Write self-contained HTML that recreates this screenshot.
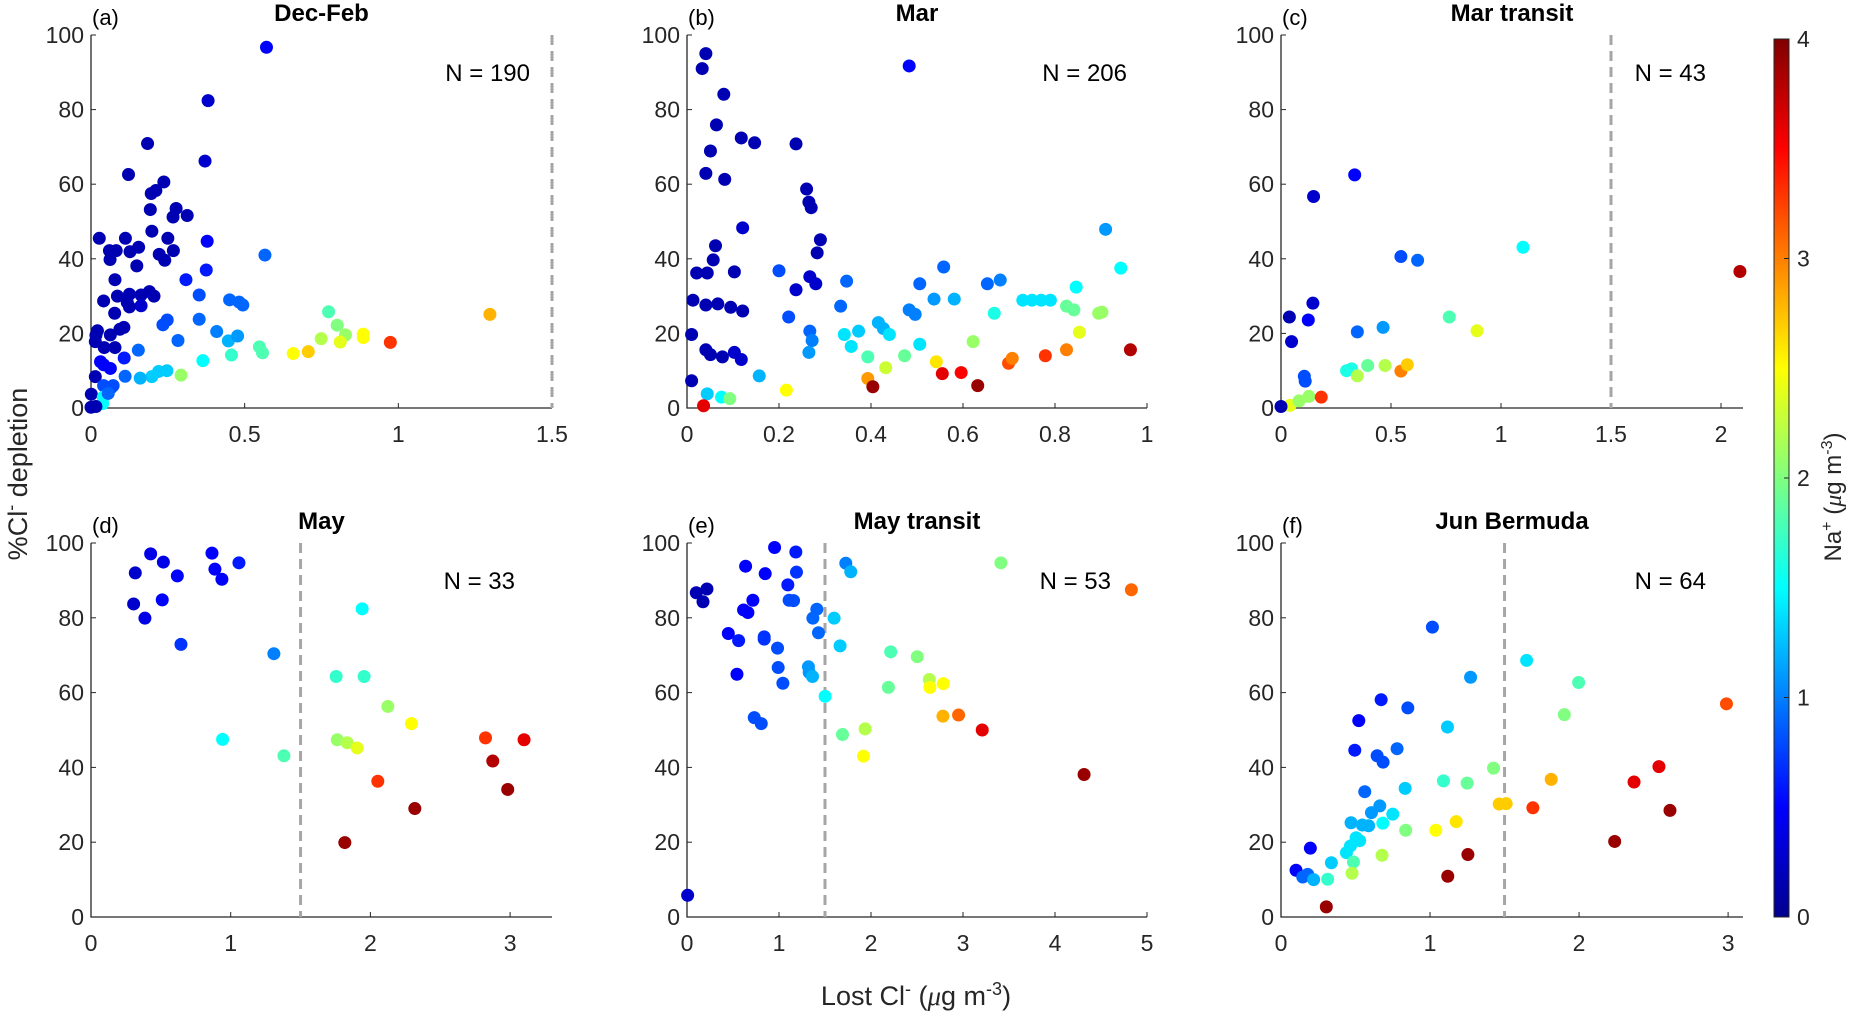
<!DOCTYPE html>
<html><head><meta charset="utf-8">
<style>
html,body{margin:0;padding:0;background:#fff;}
svg{display:block;font-family:"Liberation Sans",Arial,sans-serif;}
</style></head>
<body>
<svg id="fig" width="1856" height="1012" viewBox="0 0 1856 1012" xmlns="http://www.w3.org/2000/svg">
<defs>
<linearGradient id="jet" x1="0" y1="1" x2="0" y2="0">
<stop offset="0" stop-color="#00008f"/><stop offset="0.125" stop-color="#0000ff"/><stop offset="0.375" stop-color="#00ffff"/><stop offset="0.625" stop-color="#ffff00"/><stop offset="0.875" stop-color="#ff0000"/><stop offset="1" stop-color="#800000"/>
</linearGradient>
</defs>
<g id="panels"></g>
<text transform="translate(27,474) rotate(-90)" text-anchor="middle" font-size="27" fill="#262626">%Cl<tspan dy="-10" font-size="18">-</tspan><tspan dy="10"> depletion</tspan></text>
<text x="916" y="1005" text-anchor="middle" font-size="27" fill="#262626">Lost Cl<tspan dy="-10" font-size="18">-</tspan><tspan dy="10"> (</tspan><tspan font-family="Liberation Serif" font-style="italic">μ</tspan>g m<tspan dy="-10" font-size="18">-3</tspan><tspan dy="10">)</tspan></text>
<g>
<rect x="1774" y="39" width="15" height="878" fill="url(#jet)" stroke="#262626" stroke-width="1"/>
<g id="cbticks"></g>
<text transform="translate(1841,497) rotate(-90)" text-anchor="middle" font-size="24" fill="#262626">Na<tspan dy="-9" font-size="16">+</tspan><tspan dy="9"> (</tspan><tspan font-family="Liberation Serif" font-style="italic">μ</tspan>g m<tspan dy="-9" font-size="16">-3</tspan><tspan dy="9">)</tspan></text>
</g>
</svg>
<script>
// Panel (a) Dec-Feb
const aX=[0.571,0.381,0.184,0.371,0.122,0.237,0.196,0.211,0.193,0.277,0.267,0.313,0.198,0.027,0.112,0.25,0.378,0.566,0.06,0.082,0.127,0.155,0.062,0.222,0.24,0.268,0.149,0.375,0.078,0.309,0.041,0.086,0.125,0.163,0.19,0.205,0.118,0.163,0.125,0.352,0.451,0.482,0.494,0.077,0.773,1.298,0.021,0.016,0.063,0.094,0.107,0.234,0.248,0.352,0.409,0.447,0.477,0.283,0.801,0.828,0.886,0.886,0.811,0.749,0.974,0.658,0.707,0.548,0.558,0.457,0.364,0.293,0.247,0.22,0.198,0.16,0.111,0.154,0.108,0.014,0.043,0.078,0.031,0.041,0.063,0.014,0.001,0,0.041,0.066,0.072,0.04,0.038,0.056,0.016];
const aY=[96.7,82.4,70.9,66.2,62.6,60.6,57.5,58.3,53.2,53.5,51.2,51.6,47.4,45.5,45.5,45.5,44.7,41,42.2,42.2,41.9,43.1,39.8,41.2,39.6,42.2,38.1,37,34.4,34.4,28.7,30,30.5,30.3,31.2,30,28.3,27.4,27.1,30.3,29,28.4,27.6,25.4,25.8,25.1,20.7,19.5,19.6,21.1,21.6,22.3,23.6,23.8,20.5,18,19.3,18.1,22.2,19.6,19.8,18.9,17.7,18.6,17.6,14.6,15.1,16.4,14.8,14.2,12.7,8.8,10,9.8,8.4,8,8.5,15.5,13.4,17.8,16.2,16.2,12.4,11.6,10.6,8.4,3.7,0.2,6,5.5,6,2.9,1.2,3.9,0.4];
const aC=[0.5,0.3,0.2,0.3,0.2,0.2,0.2,0.2,0.2,0.2,0.2,0.2,0.2,0.2,0.2,0.2,0.5,0.9,0.2,0.2,0.2,0.2,0.2,0.2,0.2,0.2,0.2,0.6,0.2,0.6,0.2,0.2,0.2,0.2,0.2,0.2,0.2,0.3,0.2,0.8,0.9,0.9,0.9,0.2,1.8,2.8,0.2,0.2,0.2,0.2,0.2,0.8,0.8,0.9,1.0,1.2,1.1,0.9,2.0,2.1,2.5,2.5,2.4,2.2,3.3,2.5,2.7,1.8,1.8,1.7,1.5,2.1,1.3,1.3,1.3,1.2,0.9,0.9,0.6,0.2,0.2,0.2,0.5,0.5,0.5,0.2,0.2,0.2,0.8,0.8,0.8,1.5,1.5,0.9,0.2];
// Panel (b) Mar
const bX=[0.041,0.033,0.483,0.08,0.064,0.051,0.041,0.118,0.147,0.082,0.237,0.26,0.265,0.27,0.121,0.29,0.283,0.062,0.057,0.021,0.044,0.103,0.2,0.267,0.28,0.237,0.013,0.041,0.067,0.095,0.121,0.221,0.01,0.041,0.051,0.077,0.103,0.118,0.157,0.01,0.044,0.075,0.093,0.036,0.216,0.267,0.272,0.265,0.334,0.347,0.342,0.357,0.373,0.393,0.416,0.427,0.44,0.393,0.404,0.432,0.473,0.483,0.496,0.506,0.506,0.542,0.555,0.537,0.581,0.558,0.596,0.622,0.632,0.653,0.668,0.681,0.699,0.707,0.73,0.75,0.77,0.79,0.779,0.825,0.825,0.841,0.846,0.853,0.895,0.902,0.91,0.943,0.964];
const bY=[95,91,91.7,84.1,75.9,68.9,62.9,72.4,71.1,61.3,70.8,58.7,55.2,53.7,48.3,45.1,41.6,43.5,39.7,36.2,36.2,36.5,36.8,35.2,33.3,31.7,28.9,27.6,27.9,27,26,24.4,19.7,15.6,14.3,13.7,14.9,13,8.6,7.3,3.8,2.9,2.5,0.6,4.8,20.6,18.1,14.9,27.3,34,19.7,16.5,20.6,13.7,22.9,21.3,19.7,7.9,5.7,10.8,14,26.3,25.1,33.3,17.1,12.4,9.2,29.2,29.2,37.8,9.5,17.8,6,33.3,25.4,34.3,12,13.3,28.9,28.9,28.9,28.9,14,15.6,27.3,26.3,32.4,20.3,25.4,25.7,47.9,37.5,15.6];
const bC=[0.2,0.2,0.5,0.2,0.2,0.2,0.2,0.2,0.2,0.2,0.2,0.2,0.2,0.2,0.3,0.2,0.2,0.2,0.2,0.2,0.2,0.2,0.8,0.3,0.3,0.3,0.2,0.2,0.2,0.2,0.2,0.8,0.2,0.2,0.2,0.2,0.3,0.3,1.2,0.2,1.3,1.5,2.0,3.6,2.5,0.9,1.0,1.1,0.9,0.9,1.4,1.4,1.3,1.8,1.2,1.2,1.4,2.9,3.9,2.3,1.9,1.0,1.0,0.9,1.4,2.6,3.6,1.1,1.2,0.9,3.5,2.1,3.9,0.9,1.6,1.0,3.2,3.0,1.4,1.4,1.4,1.4,3.3,3.0,1.9,1.9,1.5,2.4,2.1,2.1,1.1,1.5,3.8];
// Panel (c) Mar transit
const cX=[0.335,0.148,0.545,0.621,1.1,2.086,0.145,0.038,0.124,0.765,0.891,0.347,0.464,0.048,0.298,0.321,0.347,0.394,0.473,0.545,0.574,0.106,0.11,0.041,0.082,0.127,0.183,0];
const cY=[62.5,56.7,40.6,39.6,43.1,36.6,28.1,24.4,23.6,24.4,20.7,20.4,21.6,17.8,10,10.5,8.6,11.4,11.4,9.9,11.6,8.5,7.2,0.7,1.9,3.1,2.9,0.4];
const cC=[0.5,0.3,0.8,0.9,1.5,3.8,0.3,0.2,0.5,1.8,2.4,0.9,1.1,0.3,1.6,1.6,2.2,1.9,2.2,3.0,2.7,0.8,0.8,2.4,2.1,2.1,3.3,0.2];
// Panel (d) May
const dX=[0.427,0.866,0.518,1.059,0.317,0.618,0.887,0.937,0.305,0.51,0.386,0.644,1.309,1.941,1.755,1.955,2.125,2.294,0.942,1.381,1.763,1.834,1.905,2.824,3.1,2.876,2.983,2.053,2.318,1.817];
const dY=[97.1,97.3,94.9,94.7,92,91.2,93,90.3,83.7,84.8,79.9,72.9,70.4,82.4,64.3,64.3,56.3,51.7,47.5,43.1,47.4,46.6,45.2,47.9,47.4,41.7,34.1,36.3,29,19.9];
const dC=[0.4,0.5,0.4,0.6,0.3,0.5,0.5,0.5,0.3,0.5,0.4,0.7,1.0,1.5,1.7,1.7,2.1,2.5,1.5,1.8,2.1,2.2,2.4,3.3,3.6,3.8,3.9,3.3,3.9,3.9];
// Panel (e) May transit
const eX=[0.952,1.183,0.637,0.85,1.19,1.726,1.78,3.412,4.83,0.101,0.217,0.174,1.096,0.716,1.11,1.158,0.615,0.662,1.411,1.368,1.599,0.449,0.561,0.839,0.839,1.429,0.984,1.664,2.214,2.503,0.991,1.32,1.328,1.364,0.543,1.042,2.634,2.641,2.786,2.189,1.501,0.731,0.807,2.782,2.952,3.209,1.69,1.936,1.918,4.316,0.007];
const eY=[98.8,97.6,93.8,91.8,92.2,94.6,92.3,94.7,87.5,86.7,87.7,84.3,88.8,84.7,84.7,84.6,82.1,81.4,82.3,79.9,79.9,75.8,73.9,74.9,74.3,76,71.9,72.5,70.9,69.6,66.7,66.9,65.4,64.3,64.9,62.5,63.5,61.4,62.4,61.4,59,53.3,51.7,53.7,54,50,48.8,50.3,43,38.1,5.8];
const eC=[0.5,0.6,0.5,0.5,0.7,1.0,1.2,2.0,3.1,0.2,0.2,0.2,0.6,0.5,0.8,0.8,0.5,0.5,0.9,0.9,1.3,0.5,0.6,0.7,0.7,0.9,0.8,1.3,1.8,2.0,0.8,1.1,1.1,1.2,0.5,0.8,2.2,2.5,2.5,1.9,1.5,0.8,0.8,2.8,3.1,3.6,1.9,2.2,2.5,3.9,0.3];
// Panel (f) Jun Bermuda
const fX=[1.016,1.648,1.272,1.997,2.989,0.672,0.851,0.522,1.901,1.117,0.495,0.645,0.685,0.779,1.426,2.536,1.813,2.369,1.09,1.249,0.562,0.833,1.464,1.511,1.69,2.61,0.663,0.607,0.75,0.47,0.546,0.588,0.683,0.837,1.039,1.176,2.239,0.197,0.504,0.528,0.466,0.439,0.678,1.254,0.338,0.486,0.101,0.146,0.179,0.219,0.313,0.477,1.119,0.304];
const fY=[77.5,68.6,64.1,62.7,57,58.1,55.9,52.5,54.1,50.8,44.6,43.1,41.4,45,39.8,40.2,36.8,36.1,36.4,35.8,33.5,34.4,30.2,30.3,29.2,28.5,29.7,27.9,27.5,25.2,24.6,24.4,25.1,23.2,23.2,25.5,20.2,18.4,21.2,20.4,19,17.2,16.5,16.7,14.5,14.7,12.5,10.7,11.4,10,10.1,11.7,10.9,2.7];
const fC=[0.8,1.4,1.1,1.8,3.2,0.6,0.8,0.5,2.0,1.3,0.6,0.8,0.8,0.9,2.0,3.6,2.8,3.6,1.7,1.9,0.9,1.3,2.7,2.7,3.3,3.9,1.1,1.1,1.4,1.2,1.2,1.2,1.5,2.0,2.5,2.6,3.9,0.5,1.4,1.4,1.4,1.4,2.2,3.9,1.3,1.8,0.5,0.9,0.9,1.2,1.7,2.2,3.9,3.9];
const yTicks=[0,20,40,60,80,100];
const xTicksA=[0,0.5,1,1.5], xTicksB=[0,0.2,0.4,0.6,0.8,1], xTicksC=[0,0.5,1,1.5,2];
const xTicksD=[0,1,2,3], xTicksE=[0,1,2,3,4,5], xTicksF=[0,1,2,3];
const cbTicks=[0,1,2,3,4];
const panelTitles=["Dec-Feb","Mar","Mar transit","May","May transit","Jun Bermuda"];
const panelLetters=["(a)","(b)","(c)","(d)","(e)","(f)"];
const panelN=[190,206,43,33,53,64];

const NS="http://www.w3.org/2000/svg";
function jet(v){
  let t=Math.max(0,Math.min(1,v/4));
  const f=(x)=>Math.max(0,Math.min(1,x));
  const r=f(Math.min(4*t-1.5,-4*t+4.5)), g=f(Math.min(4*t-0.5,-4*t+3.5)), b=f(Math.min(4*t+0.5,-4*t+2.5));
  return "rgb("+Math.round(r*255)+","+Math.round(g*255)+","+Math.round(b*255)+")";
}
function mk(tag,attrs,parent){const e=document.createElementNS(NS,tag);for(const k in attrs)e.setAttribute(k,attrs[k]);parent.appendChild(e);return e;}
const root=document.getElementById("panels");
const layout=[
 {L:91,R:552,xmax:1.5,top:35,bot:408,nR:530,dash:true},
 {L:687,R:1147,xmax:1,top:35,bot:408,nR:1127,dash:false},
 {L:1281,R:1743,xmax:2.1,top:35,bot:408,nR:1706,dash:true},
 {L:91,R:552,xmax:3.3,top:543,bot:917,nR:515,dash:true},
 {L:687,R:1147,xmax:5,top:543,bot:917,nR:1111,dash:true},
 {L:1281,R:1743,xmax:3.1,top:543,bot:917,nR:1706,dash:true}
];
const series=[[aX,aY,aC],[bX,bY,bC],[cX,cY,cC],[dX,dY,dC],[eX,eY,eC],[fX,fY,fC]];
const xticks=[xTicksA,xTicksB,xTicksC,xTicksD,xTicksE,xTicksF];
layout.forEach((p,i)=>{
  const g=mk("g",{},root);
  
  
  const sx=v=>p.L+(v/p.xmax)*(p.R-p.L);
  const sy=v=>p.bot-(v/100)*(p.bot-p.top);
  const ax=mk("path",{d:`M${p.L},${p.top}V${p.bot}H${p.R}`,fill:"none",stroke:"#262626","stroke-width":1.3},g);
  
  
  yTicks.forEach(t=>{
    mk("line",{x1:p.L,x2:p.L+5,y1:sy(t),y2:sy(t),stroke:"#262626","stroke-width":1},g);
    const tx=mk("text",{x:p.L-7,y:sy(t)+8,"text-anchor":"end","font-size":23,fill:"#262626"},g);
    tx.textContent=t;
    
    
  });
  xticks[i].forEach(t=>{
    mk("line",{x1:sx(t),x2:sx(t),y1:p.bot,y2:p.bot-5,stroke:"#262626","stroke-width":1},g);
    const tx=mk("text",{x:sx(t),y:p.bot+34,"text-anchor":"middle","font-size":23,fill:"#262626"},g);
    tx.textContent=t;
    
    
  });
  if(p.dash){
    const dl=mk("line",{x1:sx(1.5),x2:sx(1.5),y1:p.top,y2:p.bot,stroke:"#a6a6a6","stroke-width":3,"stroke-dasharray":"10,6"},g);
    
    
  }
  const [X,Y,C]=series[i];
  for(let k=0;k<X.length;k++){
    const c=mk("circle",{cx:sx(X[k]),cy:sy(Y[k]),r:6.5,fill:jet(C[k])},g);
    
    
  }
  const ti=mk("text",{x:(p.L+p.R)/2,y:p.top-14,"text-anchor":"middle","font-size":24,"font-weight":"bold",fill:"#000"},g);
  ti.textContent=panelTitles[i];
  
  
  const le=mk("text",{x:p.L+1,y:p.top-10,"font-size":22,fill:"#000"},g);
  le.textContent=panelLetters[i];
  
  
  const nt=mk("text",{x:p.nR,y:p.top+46,"text-anchor":"end","font-size":24,fill:"#000"},g);
  nt.textContent="N = "+panelN[i];
  
  
});
const cbg=document.getElementById("cbticks");
cbTicks.forEach(t=>{
  const y=917-(t/4)*878;
  mk("line",{x1:1784,x2:1789,y1:y,y2:y,stroke:"#262626","stroke-width":1},cbg);
  const tx=mk("text",{x:1797,y:y+8,"font-size":23,fill:"#262626"},cbg);
  tx.textContent=t;
  
  
});
</script>
</body></html>
